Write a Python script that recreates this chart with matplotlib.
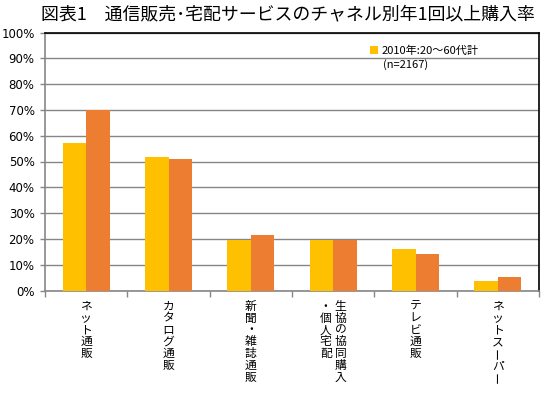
import matplotlib
matplotlib.use("Agg")
import matplotlib.pyplot as plt
import numpy as np

plt.rcParams['font.family'] = ['Noto Sans CJK JP', 'DejaVu Sans']

title = "図表1\u3000通信販売･宅配サービスのチャネル別年1回以上購入率"
# each category label as vertical columns (right column first)
categories = [
    ["ネット通販"],
    ["カタログ通販"],
    ["新聞・雑誌通販"],
    ["生協の協同購入", "・個人宅配"],
    ["テレビ通販"],
    ["ネットスーパー"],
]
series1 = [57.0, 51.6, 19.5, 19.5, 15.9, 3.5]
series2 = [69.8, 50.8, 21.7, 19.5, 14.1, 5.4]
legend_label = "2010年:20～60代計"
legend_note = "(n=2167)"
yticks = np.arange(0, 101, 10)

c1 = "#FFC000"
c2 = "#ED7D31"
grid_c = "#868686"

fig = plt.figure(figsize=(5.47, 3.97), dpi=100)
ax = fig.add_axes([45/547, 1-290.5/397, 494/547, 258/397])

x = np.arange(len(categories))
w = 0.286
ax.bar(x - w/2, series1, w, color=c1, label=legend_label, zorder=3)
ax.bar(x + w/2, series2, w, color=c2, zorder=3)

ax.set_xlim(-0.5, len(categories) - 0.5)
ax.set_ylim(0, 100)
ax.set_yticks(yticks)
ax.set_yticklabels([f"{v}%" for v in yticks], fontsize=8.5, family=['DejaVu Sans'])
ax.yaxis.grid(True, color=grid_c, linewidth=1.0, zorder=0)
ax.tick_params(axis='y', length=3.5, color=grid_c, width=1, pad=4)

ax.set_xticks(x)
ax.set_xticklabels([])
ax.tick_params(axis='x', which='major', length=0)
ax.set_xticks(np.arange(len(categories) + 1) - 0.5, minor=True)
ax.tick_params(axis='x', which='minor', length=4, color=grid_c, width=1)

for s in ['left', 'bottom']:
    ax.spines[s].set_color(grid_c)
    ax.spines[s].set_linewidth(1.2)
for s in ['top', 'right']:
    ax.spines[s].set_color('black')
    ax.spines[s].set_linewidth(1.2)

# vertical category labels
line_h = 11.8
col_gap = 15
for i, cols in enumerate(categories):
    n = len(cols)
    for j, col in enumerate(cols):
        dx = ((n - 1) / 2 - j) * col_gap
        for k, ch in enumerate(col):
            ax.annotate(ch, xy=(i, 0), xycoords=('data', 'axes fraction'),
                        xytext=(dx * 0.72, -(10 + line_h * (k + 0.5)) * 0.72),
                        textcoords='offset points', ha='center', va='center',
                        fontsize=8.5, rotation=90 if ch == "ー" else 0)

fig.text(288/547, 1 - 14/397, title, ha='center', va='center', fontsize=12.9)

leg = ax.legend(loc='upper left', bbox_to_anchor=(325/494, 1 - 13/258),
                frameon=False, fontsize=8, handlelength=0.7, handleheight=0.7,
                handletextpad=0.35, borderpad=0, borderaxespad=0)
ax.text(338/494, 1 - 32/258, legend_note, transform=ax.transAxes,
        fontsize=8, va='center', ha='left')

fig.savefig("out.png", dpi=100)
